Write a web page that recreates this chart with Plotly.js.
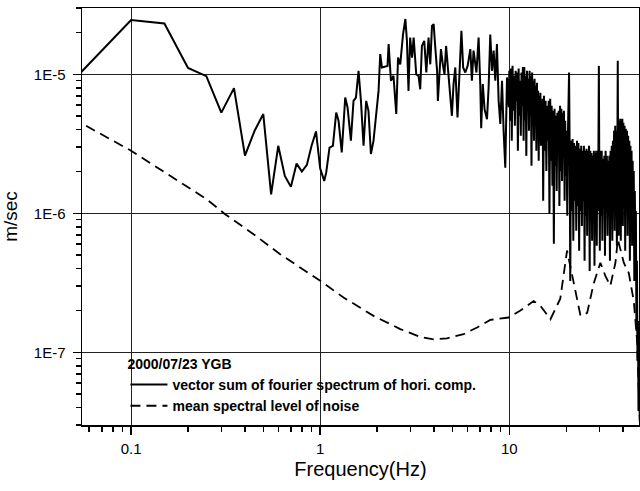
<!DOCTYPE html>
<html>
<head>
<meta charset="utf-8">
<script src="https://cdn.plot.ly/plotly-3.0.1.min.js"></script>
<style>html,body{margin:0;padding:0;background:#fff;}#chart{width:640px;height:491px;}</style>
</head>
<body>
<div id="chart"></div>
<script>
// Vector sum of Fourier spectrum (horizontal components), 2000/07/23 YGB
const sigFreq = [
  0.05, 0.1, 0.15, 0.2, 0.25, 0.3, 0.35, 0.4, 0.45, 0.5, 0.55, 0.6, 0.65, 0.7, 0.75, 0.8, 0.85, 0.9, 0.95, 1.0,
  1.05, 1.076, 1.12, 1.167, 1.215, 1.25, 1.30, 1.356, 1.395, 1.453, 1.50, 1.545, 1.595, 1.642, 1.695, 1.75, 1.80, 1.854, 1.914,
  2.035, 2.077, 2.12, 2.27, 2.30, 2.366, 2.44, 2.525, 2.58, 2.65, 2.74, 2.82, 2.875, 2.93, 2.99,
  3.06, 3.12, 3.22, 3.31, 3.38, 3.45, 3.55, 3.64, 3.74, 3.82, 3.90, 3.98, 4.06, 4.15, 4.19, 4.27, 4.35, 4.45, 4.54, 4.63, 4.77, 4.87, 4.97,
  5.07, 5.18, 5.32, 5.45, 5.58, 5.70, 5.85, 6.02, 6.22, 6.34, 6.47, 6.70, 6.88, 7.02, 7.10, 7.24, 7.40, 7.62, 7.77, 7.93,
  8.10, 8.26, 8.43, 8.60, 8.78, 8.96, 9.15, 9.33, 9.52, 9.72, 9.93,
  10.0, 10.1, 10.2, 10.3, 10.4, 10.5, 10.6, 10.7, 10.8, 10.9, 11.0, 11.1, 11.2, 11.3, 11.4, 11.5, 11.6, 11.7, 11.8, 11.9,
  12.0, 12.1, 12.2, 12.3, 12.4, 12.5, 12.6, 12.7, 12.8, 12.9, 13.0, 13.1, 13.2, 13.3, 13.4, 13.5, 13.6, 13.7, 13.8, 13.9,
  14.0, 14.1, 14.2, 14.3, 14.4, 14.5, 14.6, 14.7, 14.8, 14.9,
  15.0, 15.1, 15.25, 15.4, 15.55, 15.7, 15.85, 16.0, 16.15, 16.3, 16.45, 16.6, 16.75, 16.9, 17.05, 17.2, 17.35, 17.5, 17.65, 17.8,
  17.95, 18.1, 18.25, 18.4, 18.55, 18.7, 18.85, 19.0, 19.15, 19.3, 19.45, 19.6, 19.75, 19.9,
  20.05, 20.25, 20.45, 20.7, 20.85, 21.0, 21.2, 21.4, 21.6, 21.8, 22.0, 22.2, 22.4, 22.6, 22.8, 23.0, 23.2, 23.4, 23.6, 23.8,
  24.0, 24.2, 24.4, 24.6, 24.8, 25.0, 25.2, 25.4, 25.6, 25.8, 26.0, 26.2, 26.4, 26.6, 26.8, 27.0, 27.2, 27.4, 27.6, 27.8,
  28.0, 28.2, 28.4, 28.6, 28.8, 29.0, 29.2, 29.4, 29.6, 29.75, 29.9,
  30.1, 30.3, 30.55, 30.8, 31.05, 31.3, 31.55, 31.8, 32.05, 32.3, 32.55, 32.8, 33.05, 33.3, 33.55, 33.8, 34.05, 34.3, 34.55, 34.8,
  35.05, 35.3, 35.55, 35.8, 36.05, 36.3, 36.55, 36.8, 37.05, 37.3, 37.45, 37.6, 37.85, 38.1, 38.35, 38.6, 38.85, 39.1, 39.35, 39.6,
  39.85, 40.1, 40.4, 40.7, 41.0, 41.3, 41.6, 41.9, 42.2, 42.5, 42.8, 43.1, 43.4, 43.7, 44.0, 44.3, 44.6, 44.9, 45.2, 45.5,
  45.8, 46.1, 46.4, 46.7, 47.0, 47.3, 47.6, 47.9, 48.2, 48.5, 49.0
];
const sigAmp = [
  9.2e-6, 2.46e-5, 2.32e-5, 1.11e-5, 9.7e-6, 5.3e-6, 7.96e-6, 2.6e-6, 3.93e-6, 5.18e-6, 1.37e-6, 3.06e-6, 1.86e-6, 1.55e-6, 2.28e-6, 2.0e-6, 2.23e-6, 3.06e-6, 3.88e-6, 2.1e-6,
  1.71e-6, 1.97e-6, 2.97e-6, 3.06e-6, 5.31e-6, 4.63e-6, 2.74e-6, 6.81e-6, 5.77e-6, 3.33e-6, 6.44e-6, 6.81e-6, 1.06e-5, 6.44e-6, 3.06e-6, 6.44e-6, 5.46e-6, 2.67e-6, 3.33e-6,
  7.6e-6, 1.40e-5, 1.12e-5, 1.15e-5, 1.65e-5, 8.98e-6, 9.76e-6, 5.18e-6, 1.32e-5, 1.18e-5, 1.93e-5, 2.50e-5, 1.74e-5, 7.6e-6, 1.84e-5,
  1.32e-5, 1.84e-5, 1.0e-5, 9.76e-6, 7.8e-6, 1.60e-5, 1.74e-5, 1.03e-5, 1.84e-5, 1.18e-5, 2.23e-5, 2.30e-5, 1.56e-5, 1.06e-5, 6.44e-6, 1.06e-5, 1.52e-5, 1.18e-5, 1.0e-5, 1.60e-5, 1.0e-5, 7.3e-6, 5.03e-6,
  8.5e-6, 1.12e-5, 4.9e-6, 1.18e-5, 2.06e-5, 1.12e-5, 1.03e-5, 1.15e-5, 1.52e-5, 8.98e-6, 1.48e-5, 1.03e-5, 1.84e-5, 8.5e-6, 4.1e-6, 8.5e-6, 5.6e-6, 4.75e-6, 8.0e-6, 1.93e-5,
  1.06e-5, 1.48e-5, 8.98e-6, 1.65e-5, 6.44e-6, 4.4e-6, 8.98e-6, 3.92e-6, 2.13e-6, 9.5e-6, 5.8e-6,
  1.06e-5, 4.63e-6, 1.10e-5, 3.33e-6, 1.15e-5, 5.46e-6, 9.76e-6, 4.26e-6, 1.06e-5, 6.44e-6,
  1.03e-5, 2.82e-6, 1.10e-5, 5.03e-6, 8.98e-6, 3.61e-6, 1.03e-5, 5.93e-6, 1.13e-5, 3.33e-6,
  1.13e-5, 4.63e-6, 9.76e-6, 2.59e-6, 1.06e-5, 5.46e-6, 9.28e-6, 3.92e-6, 1.06e-5, 5.03e-6,
  9.76e-6, 2.2e-6, 1.03e-5, 4.26e-6, 8.98e-6, 3.33e-6, 9.28e-6, 4.63e-6, 8.26e-6, 2.82e-6,
  8.69e-6, 3.92e-6, 7.61e-6, 2.39e-6, 7.0e-6, 4.26e-6, 7.36e-6, 3.06e-6, 6.44e-6, 3.61e-6,
  6.67e-6, 1.23e-6, 7.0e-6, 2.82e-6, 6.44e-6, 2.02e-6, 5.93e-6, 3.33e-6, 6.44e-6, 9.9e-7, 6.67e-6, 2.39e-6, 5.93e-6, 1.58e-6, 5.46e-6, 6.04e-7, 5.65e-6, 2.2e-6, 5.03e-6, 1.45e-6,
  5.28e-6, 2.82e-6, 5.46e-6, 1.13e-6, 5.93e-6, 2.02e-6, 5.65e-6, 1.71e-6, 5.28e-6, 2.82e-6, 5.46e-6, 1.23e-6, 4.63e-6, 1.86e-6,
  3.92e-6, 9.6e-7, 4.26e-6, 1.03e-5, 2.82e-6, 3.26e-7, 3.33e-6, 1.04e-6, 3.43e-6, 6.34e-7, 3.21e-6, 1.23e-6, 3.06e-6, 7.48e-7, 3.33e-6, 1.13e-6, 3.21e-6, 5.37e-7, 2.91e-6, 1.04e-6,
  3.06e-6, 8.1e-7, 2.82e-6, 1.23e-6, 3.06e-6, 4.55e-7, 2.82e-6, 9.6e-7, 2.91e-6, 6.9e-7, 2.82e-6, 1.13e-6, 3.06e-6, 3.85e-7, 2.82e-6, 8.83e-7, 2.72e-6, 6.34e-7, 2.59e-6, 1.04e-6,
  2.82e-6, 4.2e-7, 2.72e-6, 9.6e-7, 2.82e-6, 5.85e-7, 2.82e-6, 1.04e-6, 3.06e-6, 1.15e-5, 2.39e-6,
  5.37e-7, 2.82e-6, 9.6e-7, 2.82e-6, 6.34e-7, 2.47e-6, 1.13e-6, 2.59e-6, 4.95e-7, 2.82e-6, 1.04e-6, 2.59e-6, 6.9e-7, 2.39e-6, 1.04e-6, 2.59e-6, 4.55e-7, 2.82e-6, 9.6e-7, 3.06e-6,
  6.34e-7, 3.33e-6, 1.13e-6, 3.92e-6, 7.48e-7, 4.26e-6, 1.23e-6, 3.92e-6, 5.85e-7, 3.61e-6, 1.25e-5, 2.82e-6, 6.9e-7, 4.63e-6, 1.23e-6, 4.79e-6, 6.34e-7, 4.63e-6, 1.34e-6, 4.79e-6,
  8.1e-7, 4.48e-6, 1.13e-6, 4.26e-6, 5.37e-7, 4.06e-6, 1.04e-6, 3.92e-6, 6.9e-7, 3.61e-6, 9.6e-7, 3.33e-6, 4.55e-7, 3.06e-6, 8.83e-7, 2.82e-6, 5.85e-7, 2.39e-6, 7.48e-7, 2.02e-6,
  3.26e-7, 1.45e-6, 5.37e-7, 1.04e-6, 1.43e-7, 4.55e-7, 8.69e-8, 1.68e-7, 3.79e-8, 6.24e-8, 3.21e-8
];

// Mean spectral level of noise
const noiseFreq = [0.0578, 0.1, 0.2515, 0.314, 0.444, 0.614, 1.0, 1.328, 1.914, 2.65, 3.38, 3.98, 4.68, 5.73, 6.75, 7.93, 9.91,
  11.4, 13.45, 14.6, 16.5, 18.6, 20.2, 21.5, 23.8, 25.8, 27.9, 30.3, 32.2, 34.2, 36.4, 37.5, 40.3, 42.8, 45.5, 47.4, 48.3, 49.2];
const noiseAmp = [4.26e-6, 2.82e-6, 1.26e-6, 9.86e-7, 7.08e-7, 5.08e-7, 3.27e-7, 2.48e-7, 1.83e-7, 1.47e-7, 1.29e-7, 1.24e-7, 1.26e-7, 1.35e-7, 1.51e-7, 1.71e-7, 1.78e-7,
  1.99e-7, 2.34e-7, 2.16e-7, 1.73e-7, 2.43e-7, 5.4e-7, 3.55e-7, 1.83e-7, 1.92e-7, 3.11e-7, 4.41e-7, 3.55e-7, 3.01e-7, 4.41e-7, 6.5e-7, 4.41e-7, 3.73e-7, 2.34e-7, 1.21e-7, 5.28e-8, 2.7e-8];

const seriesNames = ['vector sum of fourier spectrum of hori. comp.', 'mean spectral level of noise'];
const legendTitle = '2000/07/23 YGB';
const xTickVals = [0.1, 1, 10];
const xTickText = ['0.1', '1', '10'];
const yTickVals = [1e-7, 1e-6, 1e-5];
const yTickText = ['1E-7', '1E-6', '1E-5'];

function minorTicks(d0, d1) {
  const out = [];
  for (let e = d0; e <= d1; e++) for (let m = 2; m <= 9; m++) out.push(m * Math.pow(10, e));
  return out;
}

const FONT = 'Liberation Sans, Arial, Helvetica, sans-serif';

const traces = [
  {x: sigFreq, y: sigAmp, type: 'scatter', mode: 'lines', name: seriesNames[0],
   line: {color: '#000', width: 2}},
  {x: noiseFreq, y: noiseAmp, type: 'scatter', mode: 'lines', name: seriesNames[1],
   line: {color: '#000', width: 1.8, dash: '10px,6px'}}
];

const axisCommon = {
  showline: true, linecolor: '#000', linewidth: 1.5, mirror: true,
  showgrid: true, gridcolor: '#222', gridwidth: 1,
  ticks: 'outside', ticklen: 8, tickwidth: 1.5, tickcolor: '#000',
  tickfont: {family: FONT, size: 15, color: '#000'},
  zeroline: false, tickmode: 'array'
};

const layout = {
  width: 640, height: 491,
  margin: {l: 82, r: 1, t: 8, b: 66},
  paper_bgcolor: '#fff', plot_bgcolor: '#fff',
  font: {family: FONT, color: '#000'},
  showlegend: true,
  legend: {
    x: 0.078, y: 0.178, xanchor: 'left', yanchor: 'top',
    bgcolor: 'rgba(0,0,0,0)', borderwidth: 0,
    font: {family: FONT, size: 14, color: '#000', weight: 'bold'},
    title: {text: legendTitle, side: 'top', font: {family: FONT, size: 14, color: '#000', weight: 'bold'}},
    itemwidth: 37, tracegroupgap: 0
  },
  xaxis: Object.assign({}, axisCommon, {
    type: 'log', range: [Math.log10(0.055), Math.log10(48.5)],
    tickvals: xTickVals, ticktext: xTickText, ticklabelstandoff: 1,
    minor: {ticks: 'outside', ticklen: 5, tickvals: minorTicks(-2, 1), tickcolor: '#000', gridcolor: 'rgba(0,0,0,0)'},
    title: {text: 'Frequency(Hz)', font: {family: FONT, size: 20, color: '#000'}, standoff: 6}
  }),
  yaxis: Object.assign({}, axisCommon, {
    type: 'log', range: [Math.log10(3e-8), Math.log10(3e-5)],
    tickvals: yTickVals, ticktext: yTickText, ticklabelstandoff: 4,
    minor: {ticks: 'outside', ticklen: 5, dtick: 'D1', tickcolor: '#000', gridcolor: 'rgba(0,0,0,0)'},
    title: {text: 'm/sec', font: {family: FONT, size: 19, color: '#000'}, standoff: 11}
  }),
  shapes: [
    {type: 'rect', xref: 'paper', yref: 'paper', x0: 0.003, x1: 0.8026, y0: 0.003, y1: 0.191,
     fillcolor: '#fff', line: {width: 0}, layer: 'between'}
  ]
};

Plotly.newPlot('chart', traces, layout, {staticPlot: true, displayModeBar: false});
</script>
</body>
</html>
